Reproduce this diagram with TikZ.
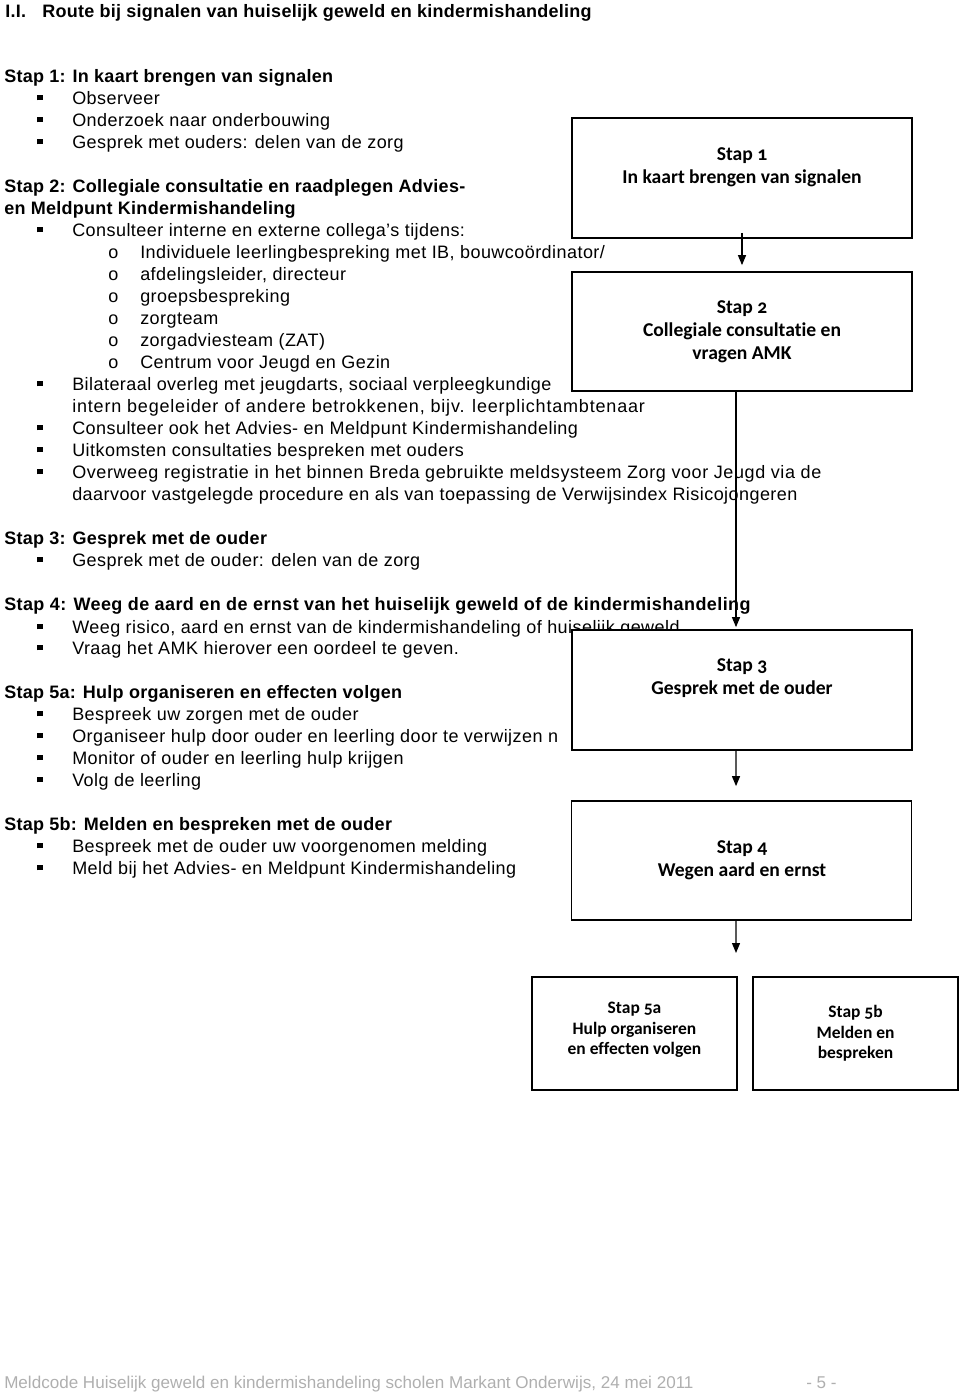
\documentclass[tikz,border=0pt]{standalone}
\usepackage{fontspec}
\setmainfont{Liberation Sans}
\newfontfamily\boxfnt{Carlito}[Numbers=OldStyle,Ligatures=NoCommon]
\usetikzlibrary{arrows.meta}
\newcommand\nfont{\fontsize{13.5pt}{16pt}\selectfont\addfontfeatures{LetterSpace=2.5}}
\newcommand\hfont{\fontsize{13.5pt}{16pt}\selectfont\bfseries\addfontfeatures{LetterSpace=1.5}}
\newcommand\ffont{\fontsize{12.8pt}{15pt}\selectfont}
\newcommand\bul{\makebox[26.25pt][l]{\rule[2.7pt]{4pt}{4pt}}}
\newcommand\subb{\makebox[24pt][l]{o}}
\definecolor{footgray}{RGB}{175,175,175}
\begin{document}
\begin{tikzpicture}[x=0.75pt,y=-0.75pt,
  txt/.style={anchor=base west,inner sep=0pt,font=\nfont},
  hd/.style={anchor=base west,inner sep=0pt,font=\hfont},
  foot/.style={anchor=base west,inner sep=0pt,font=\ffont,text=footgray},
  stepbox/.style={draw,line width=1.3pt,fill=white,inner sep=0pt,minimum width=255pt,minimum height=90pt},
  smallbox/.style={draw,line width=1.3pt,fill=white,inner sep=0pt,minimum width=153.75pt,minimum height=84.75pt},
  lbl/.style={align=center,inner sep=0pt,font=\boxfnt\bfseries\fontsize{14.7pt}{17.25pt}\selectfont},
  slbl/.style={align=center,inner sep=0pt,font=\boxfnt\bfseries\fontsize{13.1pt}{15.4pt}\selectfont},
  arr/.style={line width=0.9pt,-{Triangle[length=7.5pt,width=6pt]}}]
\useasboundingbox (0,0) rectangle (960,1393);
% title
\node[hd] (ti) at (5,17) {I.I.};
\node[hd] (tt) at (42,17) {Route bij signalen van huiselijk geweld en kindermishandeling};
% Stap 1
\node[hd] (h1) at (4,82) {Stap 1: In kaart brengen van signalen};
\node[txt] (l1a) at (37,104) {\bul Observeer};
\node[txt] (l1b) at (37,126) {\bul Onderzoek naar onderbouwing};
\node[txt] (l1c) at (37,148) {\bul Gesprek met ouders: delen van de zorg};
% Stap 2
\node[hd] (h2a) at (4,192) {Stap 2: Collegiale consultatie en raadplegen Advies-};
\node[hd] (h2b) at (4,214) {en Meldpunt Kindermishandeling};
\node[txt] (l2a) at (37,236) {\bul Consulteer interne en externe collega’s tijdens:};
\node[txt] (s2a) at (108,258) {\subb Individuele leerlingbespreking met IB, bouwcoördinator/};
\node[txt] (s2b) at (108,280) {\subb afdelingsleider, directeur};
\node[txt] (s2c) at (108,302) {\subb groepsbespreking};
\node[txt] (s2d) at (108,324) {\subb zorgteam};
\node[txt] (s2e) at (108,346) {\subb zorgadviesteam (ZAT)};
\node[txt] (s2f) at (108,368) {\subb Centrum voor Jeugd en Gezin};
\node[txt] (l2b) at (37,390) {\bul Bilateraal overleg met jeugdarts, sociaal verpleegkundige};
\node[txt,font=\nfont\addfontfeatures{LetterSpace=4.5}] (l2c) at (72,412) {intern begeleider of andere betrokkenen, bijv. leerplichtambtenaar};
\node[txt] (l2d) at (37,434) {\bul Consulteer ook het Advies- en Meldpunt Kindermishandeling};
\node[txt] (l2e) at (37,456) {\bul Uitkomsten consultaties bespreken met ouders};
\node[txt,font=\nfont\addfontfeatures{LetterSpace=3.3}] (l2f) at (37,478) {\bul Overweeg registratie in het binnen Breda gebruikte meldsysteem Zorg voor Jeugd via de};
\node[txt] (l2g) at (72,500) {daarvoor vastgelegde procedure en als van toepassing de Verwijsindex Risicojongeren};
% Stap 3
\node[hd] (h3) at (4,544) {Stap 3: Gesprek met de ouder};
\node[txt] (l3a) at (37,566) {\bul Gesprek met de ouder: delen van de zorg};
% Stap 4
\node[hd,font=\hfont\addfontfeatures{LetterSpace=2.3}] (h4) at (4,610) {Stap 4: Weeg de aard en de ernst van het huiselijk geweld of de kindermishandeling};
\node[txt] (l4a) at (37,633) {\bul Weeg risico, aard en ernst van de kindermishandeling of huiselijk geweld};
\node[txt] (l4b) at (37,654) {\bul Vraag het AMK hierover een oordeel te geven.};
% Stap 5a
\node[hd] (h5a) at (4,698) {Stap 5a: Hulp organiseren en effecten volgen};
\node[txt] (l5a) at (37,720) {\bul Bespreek uw zorgen met de ouder};
\node[txt] (l5b) at (37,742) {\bul Organiseer hulp door ouder en leerling door te verwijzen n};
\node[txt] (l5c) at (37,764) {\bul Monitor of ouder en leerling hulp krijgen};
\node[txt] (l5d) at (37,786) {\bul Volg de leerling};
% Stap 5b
\node[hd] (h5b) at (4,830) {Stap 5b: Melden en bespreken met de ouder};
\node[txt] (l5e) at (37,852) {\bul Bespreek met de ouder uw voorgenomen melding};
\node[txt] (l5f) at (37,874) {\bul Meld bij het Advies- en Meldpunt Kindermishandeling};
% footer
\node[foot] (f1) at (4,1388) {Meldcode Huiselijk geweld en kindermishandeling scholen Markant Onderwijs, 24 mei 2011};
\node[foot] (f2) at (806,1388) {- 5 -};
% boxes
\node[stepbox] (b1) at (742,178) {};
\node[lbl] (n1) at (742,167.5) {Stap 1\\In kaart brengen van signalen};
\node[stepbox,minimum height=89.25pt] (b2) at (742,331.5) {};
\node[lbl] (n2) at (742,332) {Stap 2\\Collegiale consultatie en\\vragen AMK};
\node[stepbox] (b3) at (742,690) {};
\node[lbl] (n3) at (742,678.5) {Stap 3\\Gesprek met de ouder};
\node[stepbox,minimum height=89.25pt] (b4) at (741.5,860.5) {};
\node[lbl] (n4) at (742,860.5) {Stap 4\\Wegen aard en ernst};
\node[smallbox] (b5a) at (634.5,1033.5) {};
\node[slbl] (n5a) at (634.5,1030) {Stap 5a\\Hulp organiseren\\en effecten volgen};
\node[smallbox] (b5b) at (855.5,1033.5) {};
\node[slbl] (n5b) at (855.5,1033.5) {Stap 5b\\Melden en\\bespreken};
% arrows
\draw[arr] ([yshift=4.5pt]b1.south) -- ([yshift=4.5pt]b2.north);
\draw[arr] ([xshift=-4.5pt]b2.south) -- ([xshift=-4.5pt,yshift=1.5pt]b3.north);
\draw[arr] ([xshift=-4.5pt]b3.south) -- ([xshift=-4.1pt,yshift=10.5pt]b4.north);
\coordinate (a4end) at (736,953);
\draw[arr] ([xshift=-4.1pt]b4.south) -- (a4end);
\end{tikzpicture}
\end{document}
